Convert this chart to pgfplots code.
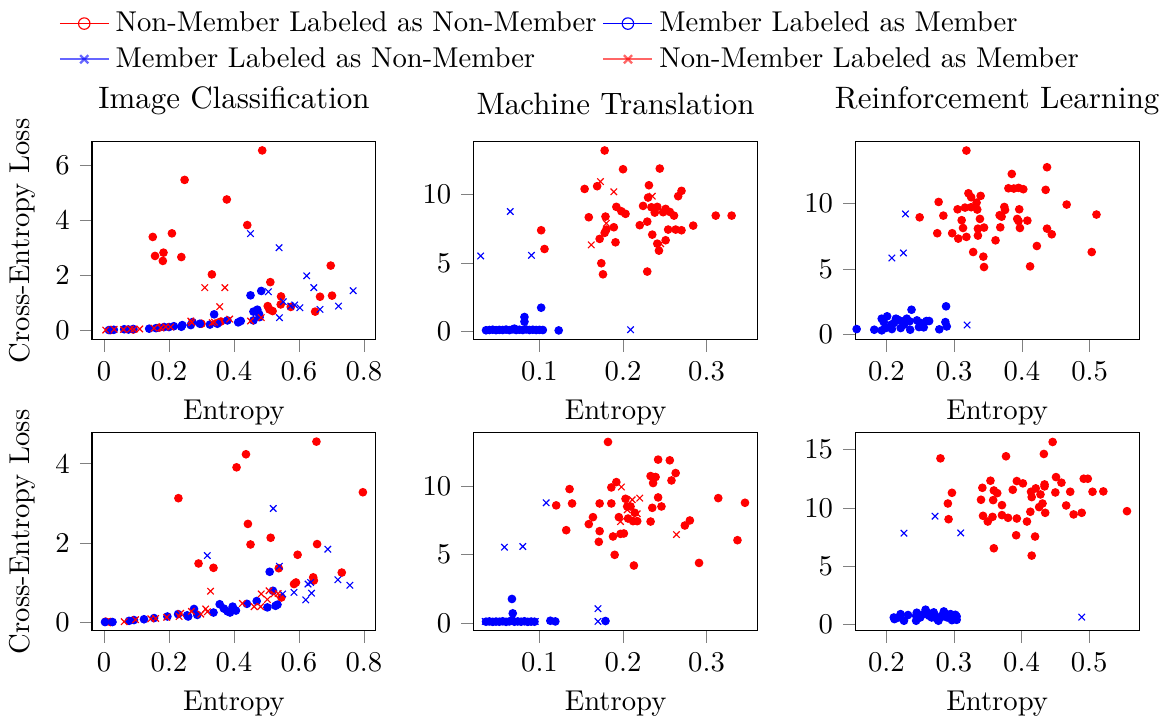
\documentclass[border=0pt]{standalone}
\usepackage{pgfplots}
\pgfplotsset{compat=1.18}
\pgfplotsset{
  panel/.style={scale only axis, width=99pt, height=69pt,
    xtick pos=bottom, ytick pos=left, tick align=outside,
    xlabel={Entropy},
    title style={font=\fontsize{10.8}{13}\selectfont},
    label style={font=\fontsize{10}{12}\selectfont},
    tick label style={font=\fontsize{10}{12}\selectfont}},
  rc/.style={only marks, mark=*, mark size=1.3pt, color=red, forget plot},
  bc/.style={only marks, mark=*, mark size=1.3pt, color=blue, forget plot},
  bx/.style={only marks, mark=x, mark size=1.6pt, color=blue, forget plot},
  rx/.style={only marks, mark=x, mark size=1.6pt, color=red, forget plot},
}
\begin{document}
\begin{tikzpicture}
% ---------------- top left
\begin{axis}[panel, at={(0pt,0pt)}, anchor=north west,
  title={Image Classification}, ylabel={Cross-Entropy Loss},
  xmin=-0.037, xmax=0.837, ymin=-0.34, ymax=6.84,
  xtick={0,0.2,0.4,0.6,0.8}, ytick={0,2,4,6},
  legend columns=2, legend cell align=left,
  legend style={at={(-0.15,1.72)}, anchor=north west, draw=none, fill=none,
    font=\fontsize{10}{12}\selectfont}]
\addlegendimage{red, mark=o, mark size=2pt}
\addlegendentry{Non-Member Labeled as Non-Member}
\addlegendimage{blue, mark=o, mark size=2pt}
\addlegendentry{Member Labeled as Member}
\addlegendimage{blue, mark=x, mark size=2pt, line width=0.8pt, opacity=0.6}
\addlegendentry{Member Labeled as Non-Member}
\addlegendimage{red, mark=x, mark size=2pt, line width=0.8pt, opacity=0.6}
\addlegendentry{Non-Member Labeled as Member}
\addplot[rc] coordinates {
(0.487,6.53) (0.248,5.46) (0.378,4.75) (0.441,3.82) (0.150,3.39) (0.209,3.52)
(0.157,2.70) (0.183,2.82) (0.181,2.52) (0.238,2.66) (0.332,2.03) (0.512,1.75)
(0.698,2.35) (0.545,1.23) (0.544,0.94) (0.504,0.88) (0.509,0.76) (0.519,0.70)
(0.575,0.85) (0.665,1.22) (0.702,1.26) (0.650,0.68) (0.02,0.01) (0.09,0.03)
(0.17,0.10) (0.30,0.24) (0.36,0.32)};
\addplot[bc] coordinates {
(0.015,0.01) (0.030,0.02) (0.062,0.04) (0.075,0.03) (0.090,0.05) (0.139,0.06)
(0.160,0.08) (0.185,0.12) (0.200,0.12) (0.215,0.15) (0.238,0.13) (0.241,0.19)
(0.267,0.19) (0.272,0.30) (0.295,0.24) (0.326,0.21) (0.339,0.58) (0.349,0.24)
(0.380,0.36) (0.413,0.29) (0.421,0.34) (0.451,1.27) (0.460,0.68) (0.472,0.75)
(0.477,0.60) (0.479,0.48) (0.460,0.36) (0.484,1.43)};
\addplot[bx] coordinates {
(0.451,3.51) (0.539,3.00) (0.506,1.40) (0.552,1.04) (0.575,0.88) (0.587,0.92)
(0.603,0.82) (0.624,1.98) (0.646,1.55) (0.665,0.76) (0.722,0.88) (0.767,1.44)
(0.540,0.46)};
\addplot[rx] coordinates {
(0.310,1.55) (0.372,1.55) (0.356,0.86) (0.387,0.41) (0.267,0.34) (0.451,0.34)
(0.484,0.46) (0.333,0.28) (0.205,0.12) (0.154,0.08) (0.082,0.05) (0.031,0.04)
(0.005,0.01) (0.092,0.04) (0.175,0.09) (0.190,0.13) (0.060,0.03) (0.110,0.05)
(0.270,0.28) (0.34,0.30)};
\end{axis}
% ---------------- top middle
\begin{axis}[panel, at={(133.1pt,0pt)}, anchor=north west,
  title={Machine Translation},
  xmin=0.0212, xmax=0.361, ymin=-0.61, ymax=13.85,
  xtick={0.1,0.2,0.3}, ytick={0,5,10}]
\addplot[rc] coordinates {
(0.178,13.22) (0.154,10.41) (0.169,10.61) (0.200,11.85) (0.244,11.90) (0.159,8.34)
(0.179,8.39) (0.192,9.10) (0.198,8.78) (0.203,8.59) (0.189,7.61) (0.180,7.44)
(0.178,7.20) (0.172,6.76) (0.191,6.51) (0.174,4.98) (0.176,4.17) (0.102,7.39)
(0.106,6.02) (0.224,9.17) (0.231,10.68) (0.230,9.78) (0.234,9.07) (0.238,8.68)
(0.241,9.10) (0.248,8.71) (0.251,8.95) (0.256,8.73) (0.261,8.46) (0.266,9.88)
(0.270,10.27) (0.220,7.76) (0.229,8.02) (0.235,7.07) (0.241,6.41) (0.243,5.90)
(0.251,6.66) (0.254,7.44) (0.263,7.44) (0.270,7.39) (0.284,7.73) (0.229,4.37)
(0.311,8.46) (0.330,8.46)};
\addplot[bc] coordinates {
(0.036,0.08) (0.040,0.10) (0.044,0.12) (0.048,0.09) (0.052,0.11) (0.056,0.10)
(0.060,0.13) (0.064,0.09) (0.068,0.15) (0.070,0.20) (0.072,0.10) (0.076,0.12)
(0.080,0.10) (0.082,1.05) (0.082,0.71) (0.084,0.14) (0.088,0.10) (0.092,0.12)
(0.096,0.10) (0.100,0.11) (0.102,1.73) (0.104,0.10) (0.123,0.07)};
\addplot[bx] coordinates {
(0.0296,5.51) (0.065,8.76) (0.0904,5.56) (0.209,0.12)};
\addplot[rx] coordinates {
(0.173,10.95) (0.189,10.20) (0.180,7.90) (0.162,6.32) (0.235,9.88) (0.245,6.41)};
\end{axis}
% ---------------- top right
\begin{axis}[panel, at={(266.2pt,0pt)}, anchor=north west,
  title={Reinforcement Learning},
  xmin=0.154, xmax=0.573, ymin=-0.38, ymax=14.67,
  xtick={0.2,0.3,0.4,0.5}, ytick={0,5,10}]
\addplot[rc] coordinates {
(0.318,14.01) (0.437,12.74) (0.385,12.23) (0.380,11.14) (0.388,11.12) (0.395,11.17)
(0.402,11.07) (0.435,11.02) (0.466,9.90) (0.510,9.14) (0.503,6.29) (0.277,10.10)
(0.249,8.93) (0.284,9.06) (0.275,7.72) (0.297,7.72) (0.306,7.31) (0.305,9.54)
(0.316,9.67) (0.325,9.70) (0.321,10.76) (0.325,10.46) (0.339,10.56) (0.333,10.05)
(0.334,9.52) (0.311,8.71) (0.338,8.81) (0.313,8.12) (0.335,8.07) (0.344,8.15)
(0.318,7.44) (0.335,7.54) (0.328,6.29) (0.343,5.94) (0.344,5.15) (0.361,7.18)
(0.367,9.09) (0.370,8.98) (0.374,9.72) (0.375,9.49) (0.368,8.17) (0.396,9.54)
(0.393,8.81) (0.395,8.65) (0.397,8.12) (0.408,8.68) (0.422,6.75) (0.412,5.20)
(0.437,8.07) (0.444,7.64)};
\addplot[bc] coordinates {
(0.156,0.43) (0.182,0.38) (0.193,0.33) (0.193,1.22) (0.201,1.40) (0.196,0.96)
(0.199,0.51) (0.207,0.76) (0.208,0.43) (0.214,1.22) (0.217,1.14) (0.221,0.51)
(0.223,1.02) (0.226,0.76) (0.230,1.22) (0.234,1.02) (0.235,0.38) (0.237,1.90)
(0.245,1.09) (0.248,0.58) (0.251,0.89) (0.255,0.56) (0.259,1.04) (0.263,1.04)
(0.278,0.41) (0.287,0.96) (0.288,2.16) (0.289,0.63) (0.211,0.89)};
\addplot[bx] coordinates {
(0.228,9.19) (0.208,5.84) (0.225,6.22) (0.319,0.74)};
\end{axis}
% ---------------- bottom left
\begin{axis}[panel, at={(0pt,-101.5pt)}, anchor=north west,
  ylabel={Cross-Entropy Loss},
  xmin=-0.037, xmax=0.837, ymin=-0.22, ymax=4.78,
  xtick={0,0.2,0.4,0.6,0.8}, ytick={0,2,4}]
\addplot[rc] coordinates {
(0.654,4.56) (0.437,4.24) (0.408,3.91) (0.797,3.28) (0.229,3.13) (0.443,2.48)
(0.451,1.96) (0.513,2.13) (0.656,1.97) (0.291,1.48) (0.337,1.37) (0.596,1.70)
(0.538,1.36) (0.732,1.25) (0.644,1.13) (0.646,1.05) (0.591,1.00) (0.585,0.96)
(0.546,0.62) (0.005,0.01) (0.02,0.0)};
\addplot[bc] coordinates {
(0.003,0.0) (0.026,0.0) (0.077,0.03) (0.092,0.05) (0.123,0.07) (0.154,0.10)
(0.195,0.14) (0.228,0.20) (0.256,0.17) (0.259,0.14) (0.277,0.33) (0.287,0.18)
(0.337,0.24) (0.356,0.45) (0.369,0.34) (0.380,0.27) (0.388,0.24) (0.396,0.39)
(0.406,0.29) (0.440,0.46) (0.470,0.53) (0.503,0.37) (0.510,1.27) (0.520,0.79)
(0.528,0.41) (0.534,0.44)};
\addplot[bx] coordinates {
(0.318,1.68) (0.521,2.87) (0.540,1.41) (0.550,0.71) (0.585,0.75) (0.621,0.56)
(0.628,0.96) (0.636,1.00) (0.639,0.73) (0.689,1.84) (0.720,1.07) (0.757,0.93)};
\addplot[rx] coordinates {
(0.062,0.01) (0.097,0.06) (0.144,0.08) (0.159,0.09) (0.193,0.12) (0.231,0.14)
(0.236,0.22) (0.269,0.27) (0.298,0.20) (0.313,0.33) (0.318,0.26) (0.328,0.78)
(0.426,0.47) (0.462,0.39) (0.482,0.39) (0.484,0.71) (0.503,0.57) (0.508,0.79)
(0.523,0.71) (0.536,0.72)};
\end{axis}
% ---------------- bottom middle
\begin{axis}[panel, at={(133.1pt,-101.5pt)}, anchor=north west,
  xmin=0.0212, xmax=0.361, ymin=-0.56, ymax=13.88,
  xtick={0.1,0.2,0.3}, ytick={0,5,10}]
\addplot[rc] coordinates {
(0.182,13.22) (0.242,11.93) (0.256,11.88) (0.263,10.95) (0.258,10.41) (0.233,10.73)
(0.239,10.66) (0.236,10.22) (0.192,10.29) (0.186,9.90) (0.136,9.78) (0.139,8.73)
(0.120,8.59) (0.132,6.78) (0.159,7.22) (0.164,7.73) (0.172,8.73) (0.186,8.73)
(0.172,6.71) (0.171,5.93) (0.188,6.32) (0.190,4.98) (0.197,6.51) (0.201,6.54)
(0.195,7.73) (0.203,9.07) (0.205,8.51) (0.209,8.51) (0.206,7.63) (0.214,8.05)
(0.212,7.44) (0.217,7.44) (0.213,4.20) (0.233,7.41) (0.235,8.41) (0.242,9.17)
(0.246,8.51) (0.274,7.12) (0.280,7.49) (0.291,4.39) (0.314,9.12) (0.337,6.05)
(0.346,8.78)};
\addplot[bc] coordinates {
(0.036,0.10) (0.040,0.12) (0.044,0.09) (0.048,0.11) (0.052,0.10) (0.056,0.13)
(0.060,0.09) (0.064,0.12) (0.067,0.20) (0.067,1.76) (0.068,0.71) (0.070,0.10)
(0.074,0.12) (0.078,0.10) (0.082,0.13) (0.086,0.09) (0.090,0.11) (0.094,0.10)
(0.113,0.17) (0.119,0.12) (0.179,0.15)};
\addplot[bx] coordinates {
(0.058,5.54) (0.080,5.59) (0.108,8.78) (0.170,1.05) (0.170,0.12) (0.035,0.12)
(0.095,0.12)};
\addplot[rx] coordinates {
(0.198,9.93) (0.197,7.41) (0.205,8.27) (0.211,9.00) (0.220,9.12) (0.217,7.98)
(0.264,6.46)};
\end{axis}
% ---------------- bottom right
\begin{axis}[panel, at={(266.2pt,-101.5pt)}, anchor=north west,
  xmin=0.154, xmax=0.574, ymin=-0.57, ymax=16.44,
  xtick={0.2,0.3,0.4,0.5}, ytick={0,5,10,15}]
\addplot[rc] coordinates {
(0.446,15.66) (0.433,14.63) (0.377,14.43) (0.280,14.25) (0.297,11.29) (0.291,10.37)
(0.292,9.02) (0.342,11.72) (0.354,12.33) (0.340,10.69) (0.359,11.49) (0.364,11.26)
(0.358,10.66) (0.371,10.23) (0.343,9.31) (0.357,9.22) (0.350,8.82) (0.371,9.37)
(0.380,9.14) (0.359,6.52) (0.387,11.55) (0.393,12.30) (0.402,12.10) (0.393,9.08)
(0.392,7.64) (0.408,8.82) (0.413,9.66) (0.414,11.38) (0.415,10.92) (0.421,11.67)
(0.426,10.06) (0.431,10.37) (0.428,11.15) (0.434,12.01) (0.434,11.84) (0.435,9.57)
(0.420,7.53) (0.415,5.89) (0.450,11.32) (0.451,12.64) (0.459,12.16) (0.466,10.20)
(0.472,11.38) (0.477,9.43) (0.489,9.57) (0.492,12.50) (0.498,12.50) (0.505,11.38)
(0.521,11.41) (0.556,9.71)};
\addplot[bc] coordinates {
(0.212,0.43) (0.221,0.86) (0.226,0.29) (0.232,0.78) (0.244,0.29) (0.244,0.72)
(0.250,0.57) (0.258,1.24) (0.260,1.01) (0.265,0.80) (0.270,1.01) (0.275,0.43)
(0.280,0.57) (0.285,1.09) (0.290,0.57) (0.295,0.86) (0.300,0.63) (0.304,0.37)
(0.302,0.80) (0.218,0.57) (0.245,0.98) (0.255,0.86) (0.263,0.72) (0.272,0.72)
(0.277,0.29) (0.282,0.72) (0.287,0.92) (0.297,0.34) (0.304,0.66) (0.211,0.57)
(0.267,0.57)};
\addplot[bx] coordinates {
(0.226,7.82) (0.272,9.28) (0.310,7.84) (0.489,0.60)};
\end{axis}
\end{tikzpicture}
\end{document}
